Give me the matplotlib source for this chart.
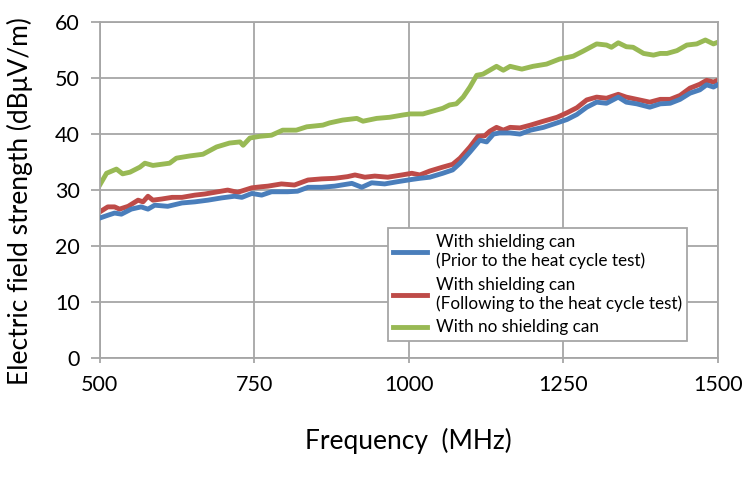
import matplotlib
matplotlib.use("Agg")
import matplotlib.pyplot as plt

# values (MHz, dBuV/m)
freq_green = [500, 511, 527, 537, 549, 565, 573, 586, 613, 624, 646, 667, 689, 710, 727,
              732, 743, 759, 778, 796, 818, 835, 861, 872, 893, 916, 926, 948, 969, 990,
              1002, 1023, 1039, 1055, 1066, 1077, 1088, 1099, 1110, 1120, 1131, 1142, 1153,
              1164, 1183, 1201, 1223, 1244, 1266, 1282, 1304, 1320, 1328, 1339, 1352, 1363,
              1380, 1396, 1407, 1418, 1434, 1450, 1466, 1480, 1493, 1500]
no_shield = [30.9, 33.0, 33.75, 32.9, 33.2, 34.1, 34.8, 34.4, 34.8, 35.7, 36.1, 36.4, 37.7,
             38.4, 38.6, 38.0, 39.3, 39.6, 39.8, 40.7, 40.7, 41.3, 41.6, 42.0, 42.5, 42.8,
             42.3, 42.8, 43.0, 43.4, 43.6, 43.6, 44.1, 44.6, 45.2, 45.4, 46.6, 48.4, 50.5,
             50.7, 51.4, 52.1, 51.4, 52.1, 51.6, 52.1, 52.5, 53.4, 53.9, 54.8, 56.1, 55.9,
             55.5, 56.3, 55.6, 55.5, 54.4, 54.1, 54.4, 54.4, 54.9, 55.9, 56.1, 56.8, 56.1, 56.4]

freq_red = [500, 513, 524, 532, 546, 562, 570, 578, 586, 600, 617, 633, 654, 670, 686, 707,
            723, 746, 762, 772, 794, 815, 837, 859, 880, 901, 913, 929, 945, 966, 989, 1005,
            1018, 1034, 1055, 1071, 1083, 1099, 1112, 1123, 1131, 1142, 1153, 1164, 1180,
            1197, 1218, 1240, 1256, 1272, 1288, 1304, 1320, 1339, 1352, 1369, 1390, 1407,
            1423, 1439, 1455, 1471, 1482, 1493, 1500]
after_heat = [26.1, 27.0, 27.0, 26.6, 27.1, 28.2, 27.9, 28.9, 28.2, 28.4, 28.7, 28.7, 29.1,
              29.3, 29.6, 30.0, 29.6, 30.4, 30.6, 30.7, 31.1, 30.9, 31.8, 32.0, 32.1, 32.4,
              32.7, 32.3, 32.5, 32.3, 32.7, 33.0, 32.7, 33.4, 34.1, 34.6, 35.7, 37.7, 39.6,
              39.7, 40.5, 41.2, 40.7, 41.2, 41.1, 41.6, 42.3, 43.0, 43.8, 44.7, 46.1, 46.6,
              46.4, 47.1, 46.6, 46.2, 45.7, 46.2, 46.2, 46.9, 48.2, 48.9, 49.6, 49.3, 49.6]

freq_blue = [500, 513, 524, 535, 551, 567, 578, 589, 610, 633, 654, 675, 697, 718, 730, 746,
             762, 778, 804, 820, 837, 859, 880, 908, 924, 940, 961, 982, 1005, 1018, 1034,
             1055, 1071, 1083, 1099, 1115, 1126, 1137, 1147, 1164, 1180, 1197, 1218, 1240,
             1256, 1272, 1288, 1304, 1320, 1339, 1352, 1369, 1390, 1407, 1423, 1439, 1455,
             1471, 1482, 1493, 1500]
prior_heat = [25.0, 25.5, 25.9, 25.7, 26.6, 27.0, 26.6, 27.3, 27.1, 27.7, 27.9, 28.2, 28.6,
              28.9, 28.7, 29.4, 29.1, 29.7, 29.7, 29.8, 30.5, 30.5, 30.7, 31.2, 30.5, 31.3,
              31.1, 31.5, 31.9, 32.1, 32.3, 33.0, 33.6, 34.8, 36.8, 38.9, 38.6, 40.0, 40.2,
              40.2, 40.0, 40.7, 41.2, 42.0, 42.6, 43.5, 44.8, 45.7, 45.5, 46.6, 45.7, 45.4,
              44.8, 45.4, 45.5, 46.2, 47.3, 47.9, 48.8, 48.4, 48.8]

labels = ["With shielding can\n(Prior to the heat cycle test)",
          "With shielding can\n(Following to the heat cycle test)",
          "With no shielding can"]
x_ticks = [500, 750, 1000, 1250, 1500]
y_ticks = [0, 10, 20, 30, 40, 50, 60]

plt.rcParams['font.family'] = ['Lato', 'DejaVu Sans']

fig = plt.figure(figsize=(7.5, 4.8), dpi=100)
ax = fig.add_axes([0.133, 0.254, 0.824, 0.700])

ax.plot(freq_blue, prior_heat, color='#4a7ebb', lw=3.5, label=labels[0], zorder=3)
ax.plot(freq_red, after_heat, color='#be4b48', lw=3.5, label=labels[1], zorder=2)
ax.plot(freq_green, no_shield, color='#98b954', lw=3.5, label=labels[2], zorder=2)

ax.set_xlim(500, 1500)
ax.set_ylim(0, 60)
ax.set_xticks(x_ticks)
ax.set_yticks(y_ticks)
ax.grid(True, color='#a6a6a6', lw=1.3)
ax.set_axisbelow(True)
for s in ax.spines.values():
    s.set_color('#a6a6a6')
    s.set_linewidth(1.3)
ax.tick_params(colors='#a6a6a6', labelcolor='black', labelsize=15.5, width=1.3)
ax.tick_params(axis='y', length=6.5, pad=8)
ax.tick_params(axis='x', length=3.5, pad=8.5)

ax.set_xlabel("Frequency  (MHz)", fontsize=19, labelpad=24)
ax.set_ylabel("Electric field strength (dBμV/m)", fontsize=19)
ax.yaxis.set_label_coords(-0.108, 0.467)

leg = ax.legend(loc='lower left', bbox_to_anchor=(0.466, 0.052), fontsize=12.3,
                frameon=True, fancybox=False, edgecolor='#a6a6a6', framealpha=1,
                handlelength=2.0, handletextpad=0.5, labelspacing=0.45, borderpad=0.3,
                borderaxespad=0)
leg.get_frame().set_linewidth(1.3)

fig.savefig('out.png', dpi=100)
